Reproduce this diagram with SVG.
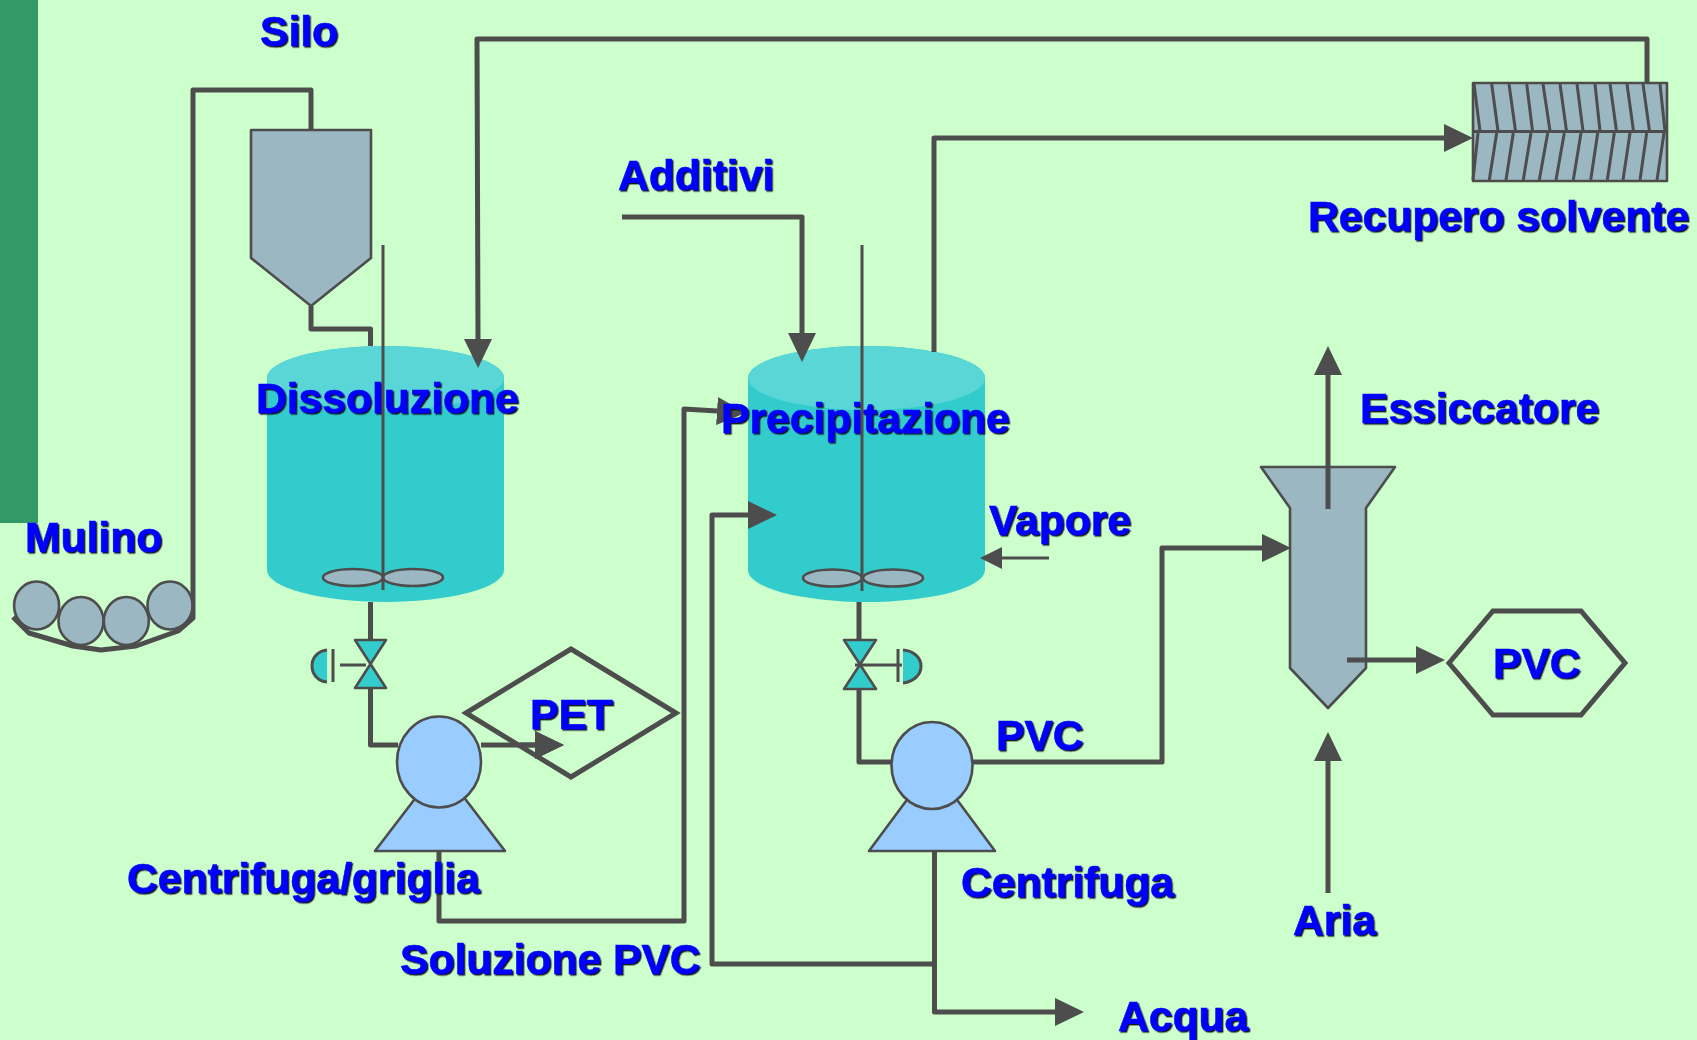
<svg xmlns="http://www.w3.org/2000/svg" width="1697" height="1040" viewBox="0 0 1697 1040">
<defs>
<style>
.pipe{fill:none;stroke:#4d4d4d;stroke-width:5;stroke-linejoin:round;stroke-linecap:butt}
.arr{marker-end:url(#head)}
.thin{fill:none;stroke:#4d4d4d;stroke-width:3}
.shape{stroke:#4d4d4d;stroke-width:2.600;stroke-linejoin:round}
.outline{fill:none;stroke:#4d4d4d;stroke-width:5;stroke-linejoin:miter}
.grey{fill:#9ab7c2}
.teal{fill:#33cccc}
.blue{fill:#99ccff}
.lbl{font-family:"Liberation Sans",Arial,sans-serif;font-weight:bold;font-size:42.600px;fill:#0000ff;stroke:#0000ff;stroke-width:.6px;filter:url(#sh)}
</style>
<marker id="head" markerUnits="userSpaceOnUse" markerWidth="30" markerHeight="29" refX="0" refY="14" orient="auto"><path d="M0 0L29 14L0 28z" fill="#4d4d4d"/></marker>
<marker id="headS" markerUnits="userSpaceOnUse" markerWidth="23" markerHeight="23" refX="0" refY="11" orient="auto"><path d="M0 0L22 11L0 22z" fill="#4d4d4d"/></marker>
<filter id="sh" x="-5%" y="-10%" width="110%" height="120%"><feDropShadow dx="1.400" dy="1.400" stdDeviation="0.200" flood-color="#111111"/></filter>
</defs>
<rect id="background" width="1697" height="1040" fill="#ccffcc"/>
<rect id="band" width="38" height="523" fill="#339966"/>

<g id="tank-dissoluzione"><path class="teal" d="M267 378A118.500 32 0 0 1 504 378V570A118.500 32 0 0 1 267 570z"/><ellipse cx="385.500" cy="378" rx="118.500" ry="32" fill="#5ad6d6"/></g>
<g id="tank-precipitazione"><path class="teal" d="M748 378A118.500 32 0 0 1 985 378V570A118.500 32 0 0 1 748 570z"/><ellipse cx="866.500" cy="378" rx="118.500" ry="32" fill="#5ad6d6"/></g>

<g id="connectors">
<path class="pipe" d="M13 617L29 633L73 646L101 650L136 646L178 631L193 618V90H311V129"/>
<path class="pipe" d="M311 306V329H370.500V346"/>
<path class="pipe arr" d="M1647 83V39H477L478 339"/>
<path class="pipe arr" d="M934 352V138H1444"/>
<path class="pipe arr" d="M622 217H802V333"/>
<path class="pipe" d="M370.500 602V640M370.500 688V745H398"/>
<path class="pipe arr" d="M481 745H535"/>
<path class="pipe arr" d="M439 851V921H684V409L717 411"/>
<path class="pipe" d="M859 602V640M859 689V762H891"/>
<path class="pipe arr" d="M934.500 851V1012H1055"/>
<path class="pipe arr" d="M934.500 964H712V515H748"/>
<path class="pipe arr" d="M972 762H1162V548H1262"/>
<path class="thin" d="M1049 558H1002" marker-end="url(#headS)"/>
<path class="pipe arr" d="M1328 893V761"/>
</g>

<g id="silo"><path class="shape grey" d="M251 130H371V258L311 306L251 258z"/></g>

<g id="mulino">
<ellipse class="shape grey" cx="36.600" cy="605.500" rx="22.500" ry="24"/>
<ellipse class="shape grey" cx="81" cy="621" rx="22.500" ry="24"/>
<ellipse class="shape grey" cx="126.300" cy="621" rx="22.500" ry="24"/>
<ellipse class="shape grey" cx="170" cy="605.500" rx="22.500" ry="24"/>
</g>

<g id="valve-1">
<path class="shape teal" d="M355 640H386L355 688H386z"/>
<path class="thin" d="M340 665H366M333 649V682"/>
<path class="teal" d="M327 650C307 652 307 680 327 682z"/><path class="thin" d="M327 650C307 652 307 680 327 682"/>
</g>
<g id="valve-2">
<path class="shape teal" d="M844 640H876L844 689H876z"/>
<path class="thin" d="M855 665H902M898 649V682"/>
<path class="teal" d="M903 650C927 652 927 680 903 683z"/><path class="thin" d="M903 650C927 652 927 680 903 683"/>
</g>

<g id="pump-1"><path class="shape blue" d="M375 851H505L440 766z"/><ellipse class="shape blue" cx="439" cy="762" rx="42" ry="45.500"/></g>
<g id="pump-2"><path class="shape blue" d="M869 851H995L932 766z"/><ellipse class="shape blue" cx="932" cy="765.500" rx="40.500" ry="43.500"/></g>

<g id="pet"><path class="outline" d="M466 713L571 649L676 713L571 777z"/></g>
<path class="pipe arr" id="connector-pet-over" d="M520 745H535"/>

<g id="condensatore">
<rect class="shape" x="1473" y="83" width="194" height="98" fill="#9ab7c2"/>
<path class="thin" d="M1473 131.500H1667M1474 84L1480 131M1491.700 84L1498 131M1509 84L1515.500 131M1526.700 84L1532.500 131M1543 84L1550 131M1560 84L1566.500 131M1577 84L1583 131M1595 84L1600 131M1610 84L1616.500 131M1627 84L1633.500 131M1643 84L1649.500 131M1660 84L1665 131M1478 133L1473 180M1496.700 133L1489.300 180M1513.300 133L1506 180M1531 133L1523.300 180M1547.700 133L1539.300 180M1564.300 133L1556 180M1581 133L1573.300 180M1597.700 133L1590.700 180M1614.300 133L1607.300 180M1630 133L1623 180M1646.700 133L1640 180M1664 133L1657 180"/>
</g>

<g id="essiccatore"><path class="shape grey" d="M1261 467H1395L1366 508V668L1328 708L1290 668V508z"/></g>
<path class="pipe arr" id="connector-vent" d="M1328 509V375"/>
<path class="pipe arr" id="connector-product" d="M1347 660H1416"/>
<g id="pvc-out"><path class="outline" d="M1449 663L1493 611H1581L1625 663L1581 715H1493z"/></g>

<g id="labels">
<text class="lbl" x="260" y="46">Silo</text>
<text class="lbl" x="256" y="413">Dissoluzione</text>
<text class="lbl" x="25" y="552">Mulino</text>
<text class="lbl" x="721" y="433">Precipitazione</text>
<text class="lbl" x="989" y="535">Vapore</text>
<text class="lbl" x="618" y="190">Additivi</text>
<text class="lbl" x="1308" y="231">Recupero solvente</text>
<text class="lbl" x="1360" y="423">Essiccatore</text>
<text class="lbl" x="1493" y="678">PVC</text>
<text class="lbl" x="530" y="729">PET</text>
<text class="lbl" x="127" y="893">Centrifuga/griglia</text>
<text class="lbl" x="400" y="974">Soluzione PVC</text>
<text class="lbl" x="996" y="750">PVC</text>
<text class="lbl" x="961" y="897">Centrifuga</text>
<text class="lbl" x="1293" y="935">Aria</text>
<text class="lbl" x="1118" y="1031">Acqua</text>
</g>

<g id="agitator-1">
<ellipse class="shape grey" cx="353" cy="577.500" rx="30" ry="8.500"/><ellipse class="shape grey" cx="413" cy="577.500" rx="30" ry="8.500"/>
<path class="thin" d="M383 245V590"/>
</g>
<g id="agitator-2">
<ellipse class="shape grey" cx="832.500" cy="578" rx="29.500" ry="8.500"/><ellipse class="shape grey" cx="893" cy="578" rx="30" ry="8.500"/>
<path class="thin" d="M862 245V591"/>
</g>
</svg>
